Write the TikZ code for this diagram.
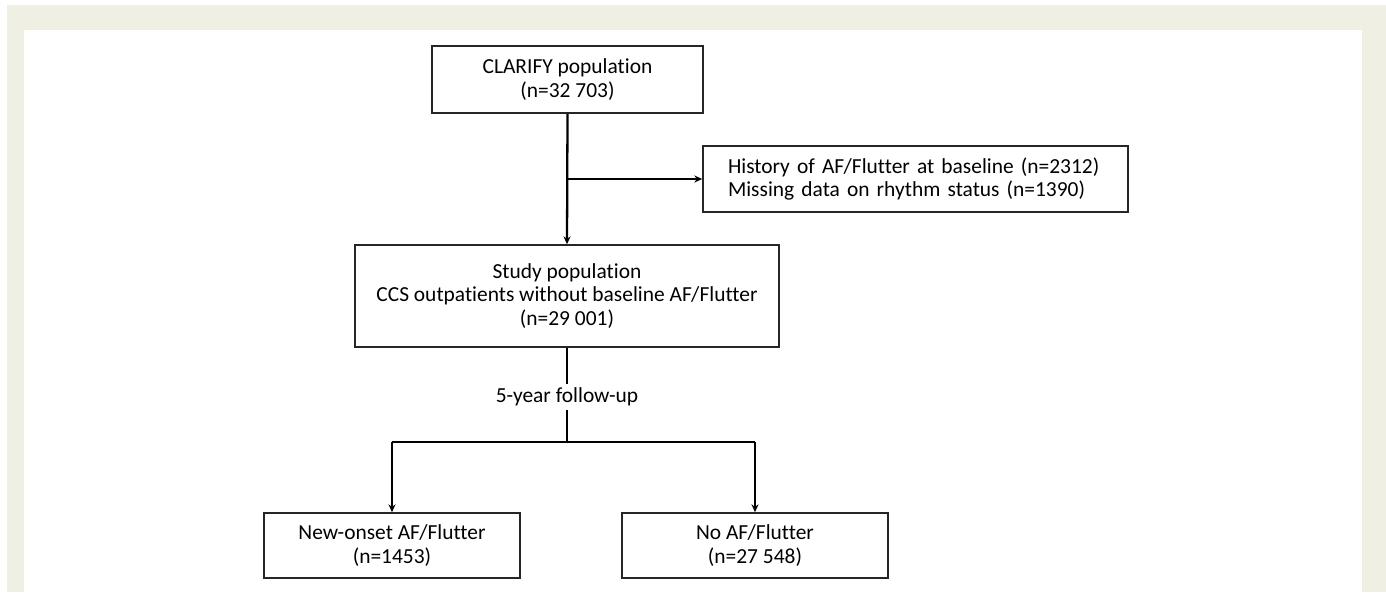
\documentclass[tikz,border=0pt]{standalone}
\usepackage{fontspec}
\setmainfont{Carlito}[Ligatures=NoCommon]
\usepackage{tikz}
\usetikzlibrary{positioning,arrows.meta,calc}

\definecolor{framebeige}{RGB}{239,239,227}

\tikzset{
    flowbox/.style={draw=black!85,line width=0.85pt,align=center,inner sep=0pt,
        font=\fontsize{12.2pt}{13.4pt}\selectfont},
    flowarrow/.style={line width=1.3pt,-{Stealth[length=4.5pt,width=4pt]}},
    flowline/.style={line width=0.7pt}
}

\begin{document}
\begin{tikzpicture}[x=0.02cm,y=-0.02cm]
    % Frame
    \useasboundingbox (0,0) rectangle (1386,592);
    \fill[framebeige] (7,5) rectangle (1386,592);
    \fill[white] (24,30) rectangle (1362,592);

    % Boxes
    \node[flowbox,minimum width=271*0.02cm,minimum height=67*0.02cm] (clarify)
        at (567.5,79.5) {CLARIFY population\\(n=32 703)};
    \node[flowbox,minimum width=425*0.02cm,minimum height=66*0.02cm,
        text width=375*0.02cm,align=left] (excluded)
        at (915.5,179) {History of AF/Flutter at baseline (n=2312)\\Missing data on rhythm status (n=1390)};
    \node[flowbox,minimum width=424*0.02cm,minimum height=102*0.02cm] (study)
        at (567,296) {Study population\\CCS outpatients without baseline AF/Flutter\\(n=29 001)};
    \node[font=\fontsize{12.2pt}{13.4pt}\selectfont,inner sep=2pt] (followup)
        at (567,397) {5-year follow-up};
    \node[flowbox,minimum width=256*0.02cm,minimum height=65*0.02cm] (newonset)
        at (392,545.5) {New-onset AF/Flutter\\(n=1453)};
    \node[flowbox,minimum width=266*0.02cm,minimum height=65*0.02cm] (noaf)
        at (755,545.5) {No AF/Flutter\\(n=27 548)};

    % Connectors
    \coordinate (split) at (567,442);
    \draw[flowarrow] (clarify.south) -- (study.north);
    \draw[flowarrow] (clarify.south |- excluded.west) -- (excluded.west);
    \draw[flowline] (study.south) -- (followup.north);
    \draw[flowline] (followup.south) -- (split);
    \draw[flowline] (newonset.north |- split) -- (noaf.north |- split);
    \draw[flowarrow] (newonset.north |- split) -- (newonset.north);
    \draw[flowarrow] (noaf.north |- split) -- (noaf.north);
\end{tikzpicture}
\end{document}
